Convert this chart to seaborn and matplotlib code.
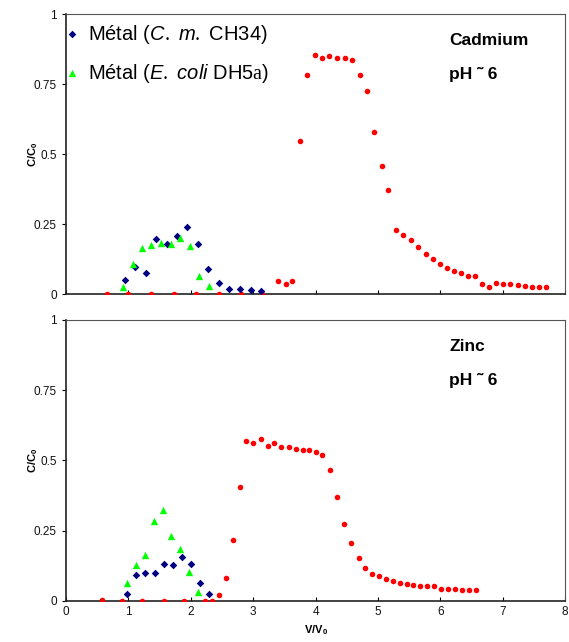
import matplotlib
matplotlib.use("Agg")
import matplotlib.pyplot as plt
import pandas as pd
import seaborn as sns

# Cadmium panel
cd_cm_x = [0.95, 1.11, 1.28, 1.44, 1.62, 1.78, 1.94, 2.11, 2.28, 2.46, 2.62, 2.79, 2.97, 3.12]
cd_cm_y = [0.049, 0.098, 0.074, 0.197, 0.180, 0.207, 0.239, 0.177, 0.091, 0.038, 0.019, 0.017, 0.013, 0.011]
cd_ec_x = [0.91, 1.07, 1.22, 1.37, 1.53, 1.68, 1.83, 1.99, 2.14, 2.30]
cd_ec_y = [0.024, 0.107, 0.165, 0.174, 0.183, 0.180, 0.199, 0.171, 0.065, 0.028]
cd_metal_x = [0.65, 1.00, 1.37, 1.73, 2.08, 2.45, 2.81, 3.15, 3.40, 3.52, 3.63,
              3.75, 3.87, 3.99, 4.11, 4.22, 4.35, 4.47, 4.59, 4.71, 4.82, 4.94,
              5.06, 5.17, 5.29, 5.40, 5.53, 5.65, 5.77, 5.88, 6.00, 6.11, 6.22,
              6.33, 6.44, 6.55, 6.67, 6.78, 6.90, 7.01, 7.12, 7.24, 7.36, 7.47,
              7.58, 7.70]
cd_metal_y = [0, 0, 0, 0, 0, 0, 0, 0, 0.046, 0.035, 0.046,
              0.546, 0.784, 0.854, 0.845, 0.851, 0.843, 0.843, 0.837, 0.782, 0.724, 0.578,
              0.459, 0.373, 0.229, 0.212, 0.193, 0.168, 0.143, 0.126, 0.109, 0.092, 0.084,
              0.076, 0.065, 0.065, 0.035, 0.026, 0.040, 0.037, 0.035, 0.031, 0.029, 0.026,
              0.024, 0.024]

# Zinc panel
zn_cm_x = [0.98, 1.12, 1.27, 1.42, 1.57, 1.71, 1.86, 2.00, 2.15, 2.30]
zn_cm_y = [0.026, 0.091, 0.099, 0.099, 0.132, 0.126, 0.156, 0.132, 0.064, 0.026]
zn_ec_x = [0.98, 1.12, 1.26, 1.41, 1.55, 1.69, 1.83, 1.97, 2.11]
zn_ec_y = [0.064, 0.128, 0.162, 0.284, 0.325, 0.232, 0.183, 0.104, 0.031]
zn_metal_x = [0.57, 0.89, 1.22, 1.57, 1.89, 2.23, 2.34, 2.45, 2.56, 2.67, 2.79,
              2.89, 3.00, 3.12, 3.24, 3.34, 3.45, 3.57, 3.69, 3.80, 3.90, 4.01,
              4.11, 4.23, 4.35, 4.46, 4.57, 4.69, 4.80, 4.91, 5.02, 5.13, 5.24,
              5.36, 5.47, 5.57, 5.68, 5.79, 5.90, 6.01, 6.12, 6.23, 6.35, 6.46,
              6.58]
zn_metal_y = [0.002, 0, 0, 0, 0, 0, 0, 0.021, 0.082, 0.218, 0.404,
              0.568, 0.560, 0.575, 0.552, 0.560, 0.546, 0.548, 0.542, 0.538, 0.535, 0.531,
              0.519, 0.464, 0.368, 0.272, 0.205, 0.153, 0.118, 0.096, 0.088, 0.077, 0.071,
              0.065, 0.060, 0.057, 0.054, 0.052, 0.052, 0.044, 0.044, 0.042, 0.040, 0.040,
              0.038]

y_ticks = [0, 0.25, 0.5, 0.75, 1]
y_tick_labels = ["0", "0.25", "0.5", "0.75", "1"]
x_ticks = [0, 1, 2, 3, 4, 5, 6, 7, 8]

LABEL_CM = r"Métal ($\it{C.\ m.}$ CH34)"
LABEL_EC = r"Métal ($\it{E.\ coli}$ DH5$\mathrm{a}$)"

sns.set_style("white")
plt.rcParams["font.family"] = ["Liberation Sans", "DejaVu Sans"]
plt.rcParams["mathtext.fontset"] = "custom"
plt.rcParams["mathtext.rm"] = "Liberation Serif"
plt.rcParams["mathtext.it"] = "Liberation Sans:italic"
plt.rcParams["mathtext.bf"] = "Liberation Sans:bold"
plt.rcParams["text.color"] = "black"
plt.rcParams["axes.labelcolor"] = "black"
plt.rcParams["xtick.color"] = "black"
plt.rcParams["ytick.color"] = "black"


def draw_panel(ax, metal_x, metal_y, cm_x, cm_y, ex_x, ex_y, title):
    sns.scatterplot(x=metal_x, y=metal_y, ax=ax, color="#FF0000", marker="o",
                    s=16, linewidth=0, zorder=3)
    sns.scatterplot(x=cm_x, y=cm_y, ax=ax, color="#000080", marker="D",
                    s=15, linewidth=0, label=LABEL_CM, zorder=4)
    sns.scatterplot(x=ex_x, y=ex_y, ax=ax, color="#00FF00", marker="^",
                    s=28, linewidth=0, label=LABEL_EC, zorder=4)
    ax.set_xlim(0, 8)
    ax.set_ylim(0, 1)
    ax.set_yticks(y_ticks)
    ax.set_yticklabels(y_tick_labels)
    ax.set_xticks(x_ticks)
    ax.tick_params(axis="y", direction="out", length=3, width=0.8, labelsize=8.5, left=True,
                   labelcolor="#111111")
    ax.tick_params(axis="x", direction="in", length=3, width=0.8, labelsize=8.5, bottom=True,
                   labelcolor="#111111")
    for side in ["left", "bottom"]:
        ax.spines[side].set_color("#222222")
        ax.spines[side].set_linewidth(1.2)
    for side in ["top", "right"]:
        ax.spines[side].set_color("#555555")
        ax.spines[side].set_linewidth(0.8)
    ax.set_ylabel(r"$\mathbf{C/C_0}$", fontsize=8)
    ax.yaxis.set_label_coords(-0.052, 0.5)
    ax.text(0.768, 0.905, title, transform=ax.transAxes, fontsize=12.5,
            fontweight="bold", va="center")
    ax.text(0.768, 0.785, "pH ˜ 6", transform=ax.transAxes, fontsize=12.5,
            fontweight="bold", va="center")


fig = plt.figure(figsize=(5.69, 6.42), dpi=100)
ax_top = fig.add_axes([0.116, 0.542, 0.877, 0.436])
ax_bot = fig.add_axes([0.116, 0.064, 0.877, 0.438])

draw_panel(ax_top, cd_metal_x, cd_metal_y, cd_cm_x, cd_cm_y, cd_ec_x, cd_ec_y, "Cadmium")
draw_panel(ax_bot, zn_metal_x, zn_metal_y, zn_cm_x, zn_cm_y, zn_ec_x, zn_ec_y, "Zinc")

ax_top.legend(loc="upper left", frameon=False, fontsize=14.5, handletextpad=0.3,
              handlelength=1.0, labelspacing=0.8, borderaxespad=0, borderpad=0,
              bbox_to_anchor=(-0.008, 0.97))
ax_bot.get_legend().remove()
ax_top.set_xticklabels([])
ax_top.set_xlabel("")
ax_bot.set_xlabel(r"$\mathbf{V/V_0}$", fontsize=8, labelpad=4)

plt.savefig("out.png", dpi=100)
plt.close(fig)
